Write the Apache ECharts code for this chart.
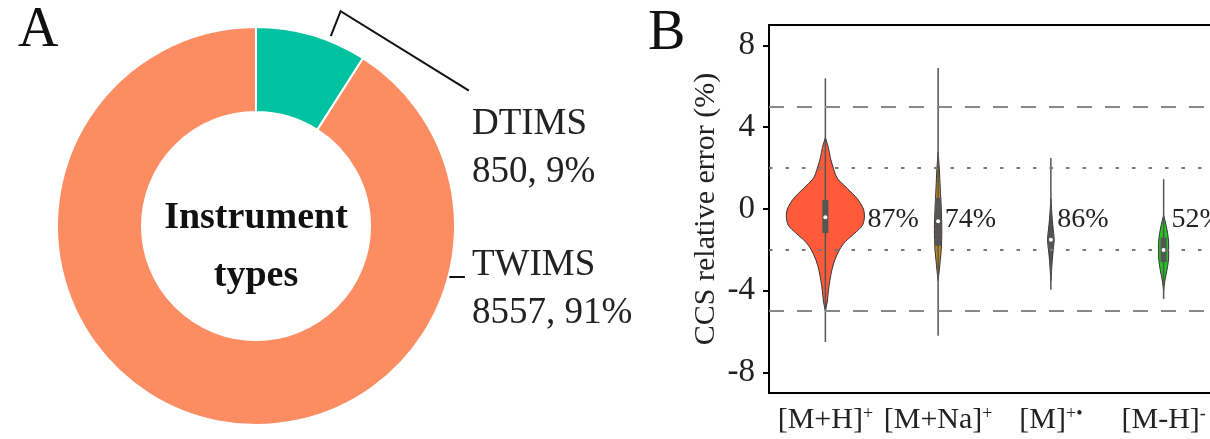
<!DOCTYPE html>
<html><head><meta charset="utf-8">
<script src="https://cdn.jsdelivr.net/npm/echarts@6/dist/echarts.min.js"></script>
<style>html,body{margin:0;padding:0;background:#fff}#c{width:1210px;height:439px}</style>
</head><body><div id="c"></div>
<script>
// ---------- data ----------
const pieNames = ['DTIMS', 'TWIMS'];
const pieValues = [850, 8557];
const centerText = 'Instrument\ntypes';

const ionMain = ['[M+H]', '[M+Na]', '[M]', '[M-H]'];
const ionCharge = ['+', '+', '+•', '-'];
const yTicks = [-8, -4, 0, 4, 8];
const refDashed = [5, -5];
const refDotted = [2, -2];
const pctLabels = ['87%', '74%', '86%', '52%'];
const pctAt = -0.5;
const whiskerLo = [-6.5, -6.2, -3.95, -4.4];
const whiskerHi = [6.4, 6.9, 2.5, 1.46];
const q1 = [-1.17, -1.8, -1.95, -2.6];
const q3 = [0.44, 0.55, -1.1, -1.4];
const medians = [-0.4, -0.6, -1.5, -2.0];
const vLevels = [
  [3.5, 3.0, 2.5, 2.0, 1.5, 1.0, 0.5, 0, -0.4, -0.8, -1.2, -1.6, -2.0, -2.5, -3.0, -3.5, -4.0, -4.5, -5.0],
  [2.8, 2.0, 1.0, 0.0, -1.0, -2.0, -2.5, -3.0, -3.5],
  [0.5, -0.5, -1.0, -1.5, -2.0, -2.5, -3.0, -3.5],
  [-0.3, -0.8, -1.2, -1.6, -2.0, -2.4, -2.8, -3.2, -3.6, -4.0]
];
const vDensity = [
  [0, 0.077, 0.128, 0.205, 0.308, 0.564, 0.82, 0.974, 1, 0.949, 0.744, 0.51, 0.36, 0.24, 0.165, 0.115, 0.077, 0.051, 0],
  [0, 0.03, 0.055, 0.08, 0.095, 0.08, 0.055, 0.03, 0],
  [0, 0.035, 0.06, 0.085, 0.06, 0.035, 0.018, 0],
  [0, 0.064, 0.103, 0.128, 0.128, 0.128, 0.103, 0.064, 0.026, 0]
];

// ---------- styles / layout ----------
const FONT = 'Liberation Serif';
const violinColors = ['#FF5B3A', '#C98A14', '#4D4D4D', '#25C525'];
const VIOLIN_SCALE = 0.346;   // max half width as fraction of band
const BOX_HALF = 0.027;       // box half width, fraction of band
const PIE_C = [256, 226];
const PIE_R = [114, 199];
const deg = Math.PI / 180;

const chart = echarts.init(document.getElementById('c'), null, {renderer: 'canvas'});

function polar(r, a) { return [PIE_C[0] + r * Math.sin(a * deg), PIE_C[1] - r * Math.cos(a * deg)]; }

const option = {
  animation: false,
  backgroundColor: '#fff',
  graphic: [
    {type: 'text', x: 18, y: 31, style: {text: 'A', fontFamily: FONT, fontSize: 56, fill: '#111', align: 'left', verticalAlign: 'middle'}},
    {type: 'text', x: 648, y: 34, style: {text: 'B', fontFamily: FONT, fontSize: 56, fill: '#111', align: 'left', verticalAlign: 'middle'}},
    {type: 'text', x: PIE_C[0], y: 247, style: {text: centerText, fontFamily: FONT, fontSize: 38, fontWeight: 'bold', lineHeight: 58, fill: '#111', align: 'center', verticalAlign: 'middle'}}
  ],
  grid: {left: 769, right: -10, top: 25, bottom: 46, outerBoundsMode: 'none', containLabel: false,
    show: true, borderColor: '#000', borderWidth: 2, backgroundColor: 'transparent'},
  xAxis: {
    type: 'category', data: ionMain,
    axisLine: {onZero: false, lineStyle: {color: '#000', width: 2}},
    axisTick: {alignWithLabel: true, length: 6, lineStyle: {color: '#000', width: 2}},
    axisLabel: {
      margin: 12, interval: 0,
      formatter: (v, i) => '{m|' + v + '}{s|' + ionCharge[i] + '}',
      rich: {
        m: {fontFamily: FONT, fontSize: 30, lineHeight: 30, color: '#222'},
        s: {fontFamily: FONT, fontSize: 18, lineHeight: 18, color: '#222', verticalAlign: 'top'}
      }
    },
    splitLine: {show: false}
  },
  yAxis: {
    type: 'value', min: -9, max: 9,
    name: 'CCS relative error (%)', nameLocation: 'middle', nameGap: 48,
    nameTextStyle: {fontFamily: FONT, fontSize: 30, color: '#222'},
    axisLine: {show: true, lineStyle: {color: '#000', width: 2}},
    axisTick: {show: true, length: 6, lineStyle: {color: '#000', width: 2}, customValues: yTicks},
    axisLabel: {fontFamily: FONT, fontSize: 33, color: '#222', margin: 14, customValues: yTicks},
    splitLine: {show: false}
  },
  series: [
    {
      type: 'pie', center: PIE_C, radius: PIE_R, startAngle: 90, clockwise: true,
      avoidLabelOverlap: false,
      color: ['#00C2A0', '#FC8D62'],
      itemStyle: {borderColor: '#fff', borderWidth: 2},
      data: pieNames.map((n, i) => ({name: n, value: pieValues[i]})),
      label: {
        show: true, position: 'outside',
        formatter: p => p.name + '\n' + p.value + ', ' + Math.round(p.percent) + '%',
        fontFamily: FONT, fontSize: 37, lineHeight: 48, color: '#222'
      },
      labelLine: {show: true, lineStyle: {color: '#111', width: 2}},
      labelLayout: function (p) {
        const lx = PIE_C[0] + PIE_R[1] * 1.085;
        if (p.dataIndex === 0) {
          const ly = PIE_C[1] - PIE_R[1] * 0.63;
          return {x: lx, y: ly, align: 'left', verticalAlign: 'top',
            labelLinePoints: [polar(PIE_R[1] + 5, 21.5), polar(PIE_R[1] * 1.16, 21.5), [lx - 3, ly - 10]]};
        } else {
          const ly = PIE_C[1] + PIE_R[1] * 0.075;
          const s = polar(PIE_R[1], 104.85);
          return {x: lx, y: ly, align: 'left', verticalAlign: 'top',
            labelLinePoints: [s, [s[0] + 1, s[1]], [lx - 7, s[1]]]};
        }
      }
    },
    {
      type: 'line', z: 1, silent: true, data: [],
      markLine: {
        silent: true, symbol: 'none', label: {show: false}, animation: false,
        data: refDashed.map(v => ({yAxis: v, lineStyle: {type: [15, 13], color: '#888', width: 2}}))
          .concat(refDotted.map(v => ({yAxis: v, lineStyle: {type: [3.5, 13], color: '#777', width: 2}})))
      }
    },
    {
      type: 'custom', z: 3,
      data: ionMain.map((c, i) => [i]),
      encode: {x: 0},
      renderItem: function (params, api) {
        const i = api.value(0);
        const band = api.size([1, 0])[0];
        const cx = api.coord([i, 0])[0];
        const L = [], R = [];
        let maxW = 0;
        vLevels[i].forEach((lv, k) => {
          const y = api.coord([i, lv])[1];
          const w = vDensity[i][k] * VIOLIN_SCALE * band;
          maxW = Math.max(maxW, w);
          R.push([cx + w, y]);
          L.unshift([cx - w, y]);
        });
        const bw = BOX_HALF * band;
        const yq3 = api.coord([i, q3[i]])[1], yq1 = api.coord([i, q1[i]])[1];
        const ym = api.coord([i, medians[i]])[1];
        const yl = api.coord([i, pctAt])[1];
        return {
          type: 'group',
          children: [
            {type: 'polygon', shape: {points: R.concat(L), smooth: 0.3}, style: {fill: violinColors[i], stroke: '#333', lineWidth: 1}},
            {type: 'line', shape: {x1: cx, y1: api.coord([i, whiskerHi[i]])[1], x2: cx, y2: api.coord([i, whiskerLo[i]])[1]}, style: {stroke: '#555', lineWidth: 1.5}},
            {type: 'rect', shape: {x: cx - bw, y: yq3, width: 2 * bw, height: yq1 - yq3}, style: {fill: '#555'}},
            {type: 'circle', shape: {cx: cx, cy: ym, r: 2}, style: {fill: '#fff'}},
            {type: 'text', x: cx + Math.max(maxW, bw) + 3, y: yl, style: {text: pctLabels[i], fontFamily: FONT, fontSize: 28, fill: '#222', align: 'left', verticalAlign: 'middle'}}
          ]
        };
      }
    }
  ]
};
chart.setOption(option);
</script>
</body></html>
